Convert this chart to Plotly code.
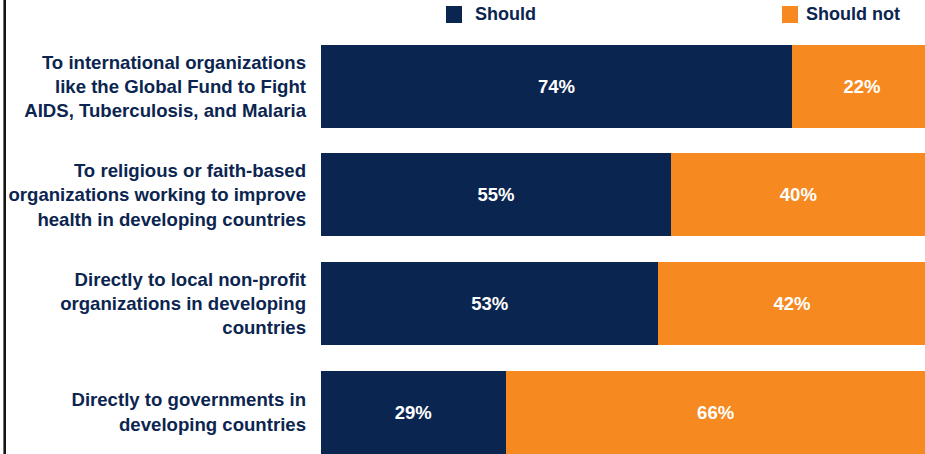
import plotly.graph_objects as go

NAVY = "#0a2550"
ORANGE = "#f6891f"
TEXT = "#0b2550"
FONT = "Liberation Sans, Arial, sans-serif"

categories = [
    "To international organizations<br>like the Global Fund to Fight<br>AIDS, Tuberculosis, and Malaria",
    "To religious or faith-based<br>organizations working to improve<br>health in developing countries",
    "Directly to local non-profit<br>organizations in developing<br>countries",
    "Directly to governments in<br>developing countries",
]
should = [74, 55, 53, 29]
should_not = [22, 40, 42, 66]

W, H = 925, 454
PLOT_L = 321


def px_x(px):
    return (px - PLOT_L) / (W - PLOT_L)


def px_y(py):
    return 1 - py / H


fig = go.Figure()
for name, vals, color in [("Should", should, NAVY), ("Should not", should_not, ORANGE)]:
    fig.add_trace(go.Bar(
        y=categories,
        x=vals,
        name=name,
        orientation="h",
        marker_color=color,
        marker_line_width=0,
        width=0.765,
        text=[f"{v}%" for v in vals],
        textposition="inside",
        insidetextanchor="middle",
        textangle=0,
        constraintext="none",
        textfont=dict(family=FONT, size=18.5, color="white", weight="bold"),
        hoverinfo="skip",
    ))

# hand-drawn legend: (square left, text left)
for sq_x, txt_x, label, color in [(446, 476, "Should", NAVY), (782, 807, "Should not", ORANGE)]:
    fig.add_shape(
        type="rect", xref="paper", yref="paper",
        x0=px_x(sq_x), x1=px_x(sq_x + 16), y0=px_y(23), y1=px_y(6),
        fillcolor=color, line_width=0,
    )
    fig.add_annotation(
        xref="paper", yref="paper", x=px_x(txt_x - 3), y=px_y(14.5),
        xanchor="left", yanchor="middle", showarrow=False, text=label,
        font=dict(family=FONT, size=18, color=TEXT, weight="bold"),
    )

# left border line
fig.add_shape(
    type="line", xref="paper", yref="paper",
    x0=px_x(4.7), x1=px_x(4.7), y0=0, y1=1,
    line=dict(color="#151515", width=2.6),
)

fig.update_layout(
    barmode="stack",
    width=W,
    height=H,
    margin=dict(l=PLOT_L, r=0, t=0, b=0),
    paper_bgcolor="white",
    plot_bgcolor="white",
    showlegend=False,
    xaxis=dict(
        range=[0, 94.9], visible=False, showgrid=False, zeroline=False,
    ),
    yaxis=dict(
        type="category",
        range=[3.387, -0.797],
        showgrid=False,
        zeroline=False,
        showline=False,
        ticks="",
        ticklabelstandoff=14,
        tickfont=dict(family=FONT, size=18.6, color=TEXT, weight="bold"),
    ),
)

# drop the browser's default body margin so the figure sits at the page corner
fig.write_html(
    "out.html",
    config={"displayModeBar": False},
    post_script="document.body.style.margin = '0';",
)
